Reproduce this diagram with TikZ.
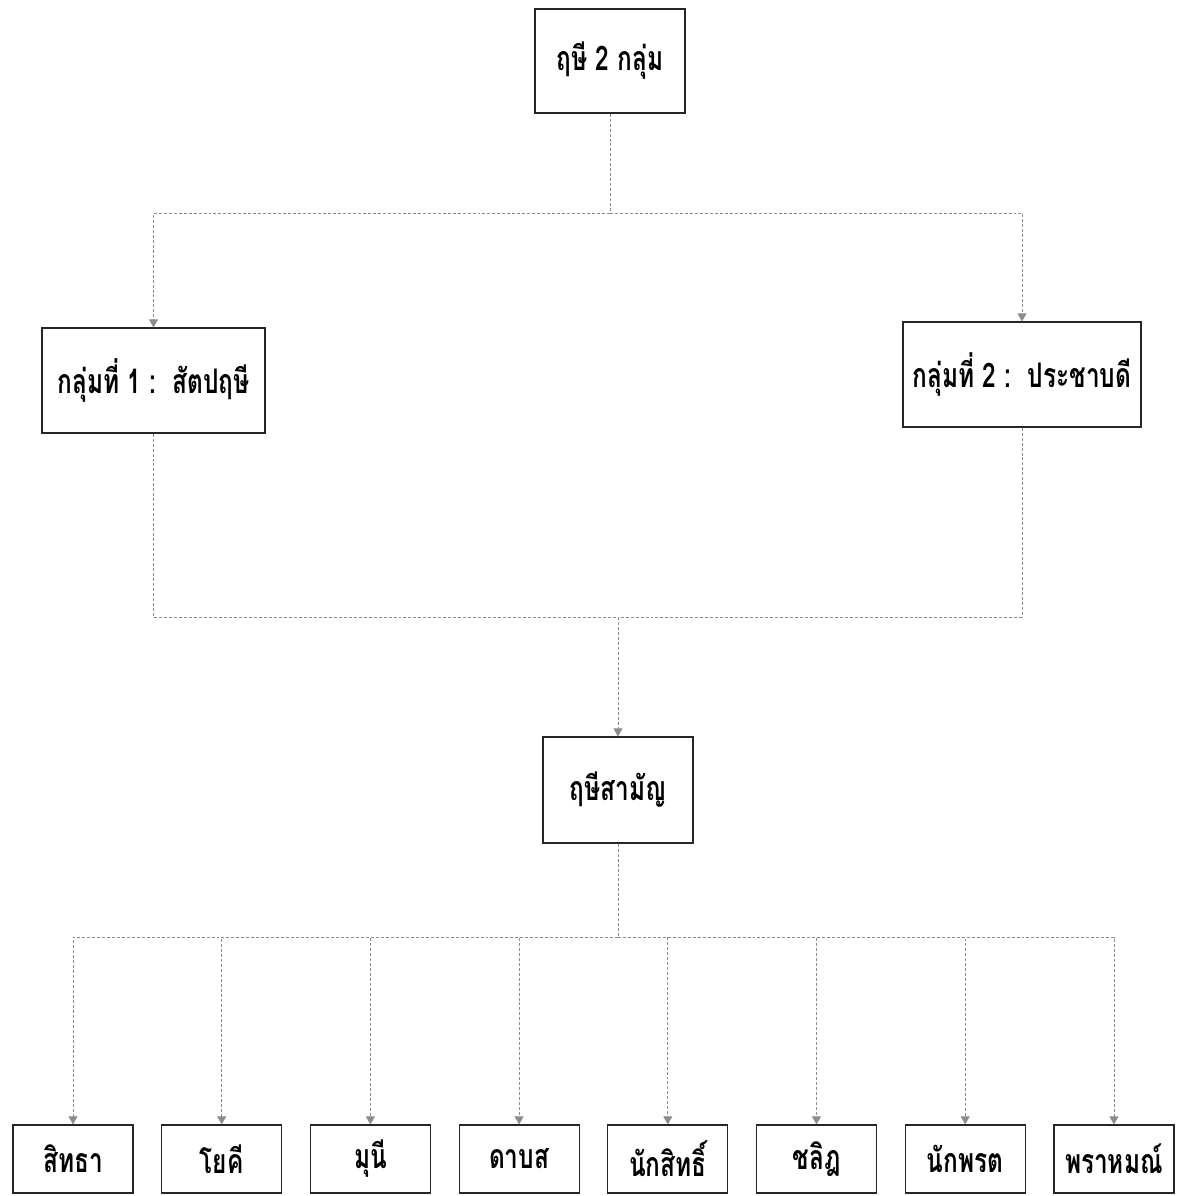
\documentclass[tikz,border=0pt]{standalone}
\usepackage{fontspec}
\newfontfamily\thaifont[Script=Thai,FakeStretch=0.72]{Loma}
\usetikzlibrary{arrows.meta}

\tikzset{
	box/.style={draw=black!85, line width=1.2bp, inner sep=0pt, align=center},
	link/.style={draw=black!45, line width=0.7bp, densely dashed},
	arrowlink/.style={link, -{Triangle[width=9bp,length=8bp]}}
}

\begin{document}
\begin{tikzpicture}[x=1bp, y=1bp, font=\thaifont\bfseries\fontsize{34}{38}\selectfont]
	\useasboundingbox (0,0) rectangle (1181,-1196);
	\node[box, minimum width=150bp, minimum height=104bp] (rishi) at (610,-61) {ฤษี 2 กลุ่ม};
	\node[box, minimum width=223bp, minimum height=105bp] (group1) at (153.5,-380.5) {กลุ่มที่ 1 :\, สัตปฤษี};
	\node[box, minimum width=238bp, minimum height=105bp] (group2) at (1022,-374.5) {กลุ่มที่ 2 :\, ประชาบดี};
	\node[box, minimum width=150bp, minimum height=106bp] (common) at (618,-790) {ฤษีสามัญ};

	\node[box, minimum width=120bp, minimum height=68bp] (siddha) at (73,-1159) {สิทธา};
	\node[box, minimum width=120bp, minimum height=68bp] (yogi) at (221.7,-1159) {โยคี};
	\node[box, minimum width=120bp, minimum height=68bp] (muni) at (370.4,-1159) {มุนี};
	\node[box, minimum width=120bp, minimum height=68bp] (tapas) at (519.1,-1159) {ดาบส};
	\node[box, minimum width=120bp, minimum height=68bp] (naksit) at (667.8,-1159) {นักสิทธิ์};
	\node[box, minimum width=120bp, minimum height=68bp] (chalit) at (816.5,-1159) {ชลิฎ};
	\node[box, minimum width=120bp, minimum height=68bp] (nakprot) at (965.2,-1159) {นักพรต};
	\node[box, minimum width=120bp, minimum height=68bp] (brahmin) at (1113.9,-1159) {พราหมณ์};

	\coordinate (split1) at (610,-213);
	\coordinate (join) at (618,-617);
	\coordinate (split2) at (618,-937);

	\draw[link] (rishi.south) -- (split1);
	\draw[arrowlink] (split1) -| (group1.north);
	\draw[arrowlink] (split1) -| (group2.north);
	\draw[link] (group1.south) |- (join);
	\draw[link] (group2.south) |- (join);
	\draw[arrowlink] (join) -- (common.north);
	\draw[link] (common.south) -- (split2);
	\draw[arrowlink] (split2) -| (siddha.north);
	\draw[arrowlink] (split2) -| (yogi.north);
	\draw[arrowlink] (split2) -| (muni.north);
	\draw[arrowlink] (split2) -| (tapas.north);
	\draw[arrowlink] (split2) -| (naksit.north);
	\draw[arrowlink] (split2) -| (chalit.north);
	\draw[arrowlink] (split2) -| (nakprot.north);
	\draw[arrowlink] (split2) -| (brahmin.north);
\end{tikzpicture}
\end{document}
